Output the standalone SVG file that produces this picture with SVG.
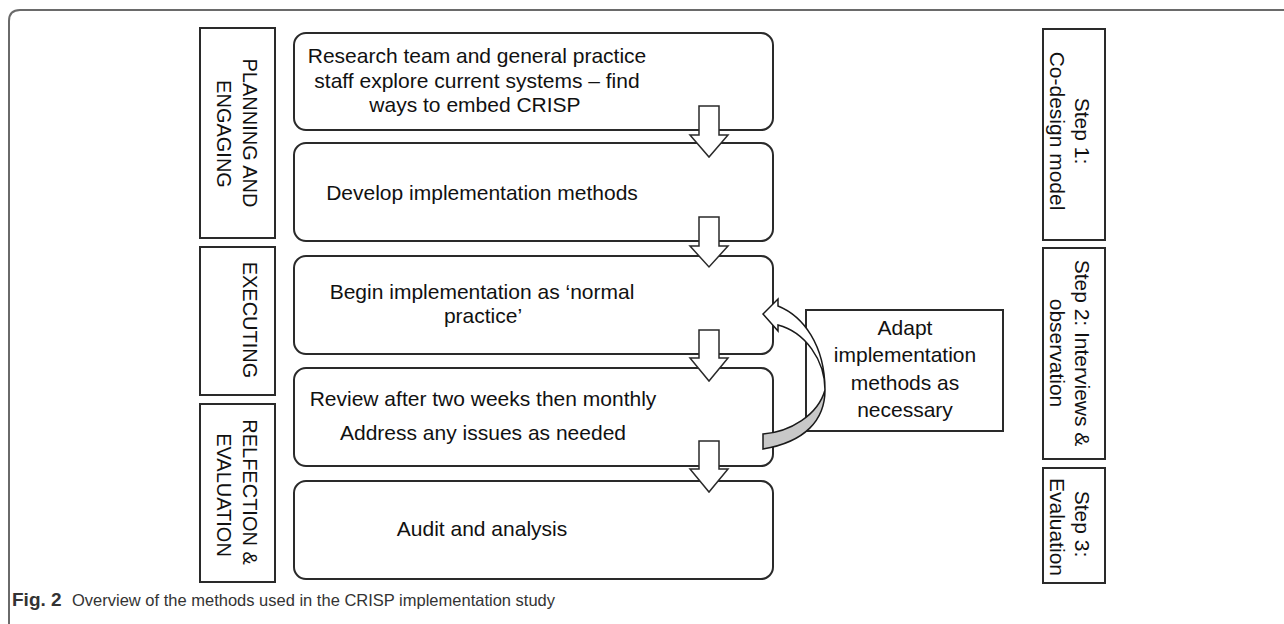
<svg xmlns="http://www.w3.org/2000/svg" width="1284" height="624" viewBox="0 0 1284 624">
<style>
  .frame{fill:none;stroke:#6a6a6a;stroke-width:2}
  .side{fill:#fff;stroke:#2a2a2a;stroke-width:2}
  .box{fill:#fff;stroke:#2a2a2a;stroke-width:2}
  .t{font-family:"Liberation Sans",Arial,sans-serif;font-size:21px;fill:#111;text-anchor:middle}
  .s{font-family:"Liberation Sans",Arial,sans-serif;font-size:20px;fill:#111;text-anchor:middle}
  .dn{fill:#fff;stroke:#2a2a2a;stroke-width:1.5;stroke-linejoin:miter}
  .cap{font-family:"Liberation Sans",Arial,sans-serif;font-size:16.5px;fill:#333}
  .fig{font-family:"Liberation Sans",Arial,sans-serif;font-size:19px;font-weight:bold;fill:#333}
</style>
<rect width="1284" height="624" fill="#fff"/>
<path class="frame" d="M9,624 L9,21 Q9,10 20,10 L1284,10"/>

<g id="phase-planning">
  <rect class="side" x="200" y="28" width="75" height="210"/>
  <text class="s" transform="translate(243,133) rotate(90)">PLANNING AND</text>
  <text class="s" transform="translate(217,134) rotate(90)">ENGAGING</text>
</g>
<g id="phase-executing">
  <rect class="side" x="200" y="247" width="75" height="148"/>
  <text class="s" transform="translate(243,320) rotate(90)">EXECUTING</text>
</g>
<g id="phase-reflection">
  <rect class="side" x="200" y="404" width="75" height="178"/>
  <text class="s" transform="translate(243,492) rotate(90)">RELFECTION &amp;</text>
  <text class="s" transform="translate(217,495) rotate(90)">EVALUATION</text>
</g>

<g id="box-research">
  <rect class="box" x="294" y="33" width="479" height="97" rx="12"/>
  <text class="t" x="477" y="63">Research team and general practice</text>
  <text class="t" x="477" y="88">staff explore current systems – find</text>
  <text class="t" x="475" y="112">ways to embed CRISP</text>
</g>
<g id="box-develop">
  <rect class="box" x="294" y="143" width="479" height="98" rx="12"/>
  <text class="t" x="482" y="200">Develop implementation methods</text>
</g>
<g id="box-begin">
  <rect class="box" x="294" y="256" width="479" height="98" rx="12"/>
  <text class="t" x="482" y="299">Begin implementation as ‘normal</text>
  <text class="t" x="483" y="323">practice’</text>
</g>
<g id="box-review">
  <rect class="box" x="294" y="368" width="479" height="98" rx="12"/>
  <text class="t" x="483" y="406">Review after two weeks then monthly</text>
  <text class="t" x="483" y="440">Address any issues as needed</text>
</g>
<g id="box-audit">
  <rect class="box" x="294" y="481" width="479" height="98" rx="12"/>
  <text class="t" x="482" y="536">Audit and analysis</text>
</g>

<g id="box-adapt">
  <rect class="box" x="806" y="310" width="197" height="121"/>
  <text class="t" x="905" y="335">Adapt</text>
  <text class="t" x="905" y="362">implementation</text>
  <text class="t" x="905" y="390">methods as</text>
  <text class="t" x="905" y="417">necessary</text>
</g>

<g id="step-1">
  <rect class="side" x="1043" y="29" width="62" height="211"/>
  <text class="t" transform="translate(1075,131) rotate(90)">Step 1:</text>
  <text class="t" transform="translate(1050,131) rotate(90)">Co-design model</text>
</g>
<g id="step-2">
  <rect class="side" x="1043" y="248" width="62" height="211"/>
  <text class="t" transform="translate(1075,353) rotate(90)">Step 2: Interviews &amp;</text>
  <text class="t" transform="translate(1050,353) rotate(90)">observation</text>
</g>
<g id="step-3">
  <rect class="side" x="1043" y="468" width="62" height="115"/>
  <text class="t" transform="translate(1075,524) rotate(90)">Step 3:</text>
  <text class="t" transform="translate(1050,527) rotate(90)">Evaluation</text>
</g>

<g id="connectors">
  <path class="dn" d="M699,106 H719 V135 H728 L709,157 L690,135 H699 Z"/>
  <path class="dn" d="M699,217 H719 V246 H728 L709,267 L690,246 H699 Z"/>
  <path class="dn" d="M699,330 H719 V358 H728 L709,381 L690,358 H699 Z"/>
  <path class="dn" d="M699,441 H719 V469 H728 L709,492 L690,469 H699 Z"/>
  <path fill="#c8c8c8" stroke="#1a1a1a" stroke-width="1.5" d="M825,390 C825,420 805,442 763,449 L763,434 C790,432 818,415 825,390 Z"/>
  <path fill="#fff" stroke="#1a1a1a" stroke-width="1.5" stroke-linejoin="miter" d="M778,306 C803,316 825,345 825,390 C825,360 805,332 778,325 L778,331 L763,314 L778,299 Z"/>
</g>

<g id="caption">
  <text class="fig" x="12" y="606">Fig. 2</text>
  <text class="cap" x="72" y="606">Overview of the methods used in the CRISP implementation study</text>
</g>
</svg>
